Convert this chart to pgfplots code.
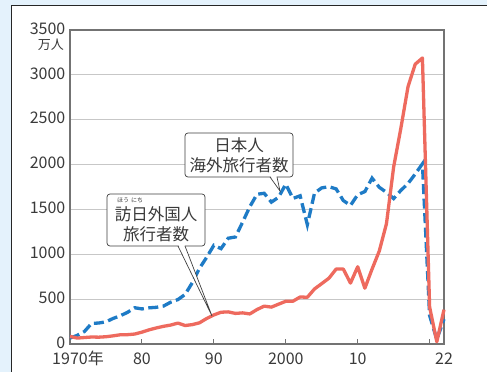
\documentclass[border=0pt]{standalone}
\usepackage{pgfplots}
\pgfplotsset{compat=1.18}
\usepackage{fontspec}
\setmainfont{Noto Sans CJK JP}
\definecolor{bgblue}{HTML}{E4F2FC}
\definecolor{myred}{HTML}{EE6A5E}
\definecolor{myblue}{HTML}{1E7BC6}
\definecolor{txt}{HTML}{3A3A3A}
\pgfplotstableread{
year val
1970 66
1971 96
1972 139
1973 229
1974 234
1975 247
1976 285
1977 315
1978 353
1979 404
1980 391
1981 403
1982 409
1983 423
1984 466
1985 495
1986 552
1987 683
1988 843
1989 966
1990 1100
1991 1063
1992 1179
1993 1193
1994 1358
1995 1530
1996 1669
1997 1680
1998 1581
1999 1636
2000 1782
2001 1622
2002 1652
2003 1330
2004 1683
2005 1740
2006 1753
2007 1729
2008 1599
2009 1545
2010 1664
2011 1699
2012 1849
2013 1747
2014 1690
2015 1621
2016 1712
2017 1789
2018 1895
2019 2008
2020 317
2021 51
2022 277
}\outbound
\pgfplotstableread{
year val
1970 85
1971 66
1972 72
1973 78
1974 76
1975 81
1976 91
1977 103
1978 104
1979 111
1980 132
1981 158
1982 179
1983 197
1984 211
1985 233
1986 206
1987 216
1988 236
1989 284
1990 324
1991 354
1992 358
1993 341
1994 347
1995 335
1996 384
1997 422
1998 411
1999 444
2000 476
2001 477
2002 524
2003 521
2004 614
2005 673
2006 733
2007 835
2008 835
2009 679
2010 861
2011 622
2012 836
2013 1036
2014 1341
2015 1974
2016 2404
2017 2869
2018 3119
2019 3188
2020 412
2021 25
2022 383
}\inbound
\begin{document}
\begin{tikzpicture}
\path[use as bounding box] (0,0) rectangle (487bp,372bp);
\fill[bgblue] (0,0) rectangle (487bp,372bp);
\fill[white] (11bp,0) rectangle (487bp,366bp);
\draw[black!85, line width=1bp] (11bp,0) -- (11bp,366bp) -- (487bp,366bp);
\begin{axis}[
  at={(70bp,28bp)}, anchor=south west,
  scale only axis, width=374bp, height=314bp,
  xmin=1970, xmax=2022, ymin=0, ymax=3500,
  xtick={1970,1980,1990,2000,2010,2020,2022},
  xticklabels={1970\rlap{年},80,90,2000,10,,22},
  ytick={0,500,1000,1500,2000,2500,3000,3500},
  yticklabels={0,500,1000,1500,2000,2500,3000,3500},
  /pgf/number format/assume math mode=true,
  ymajorgrids, grid style={black!22, line width=0.8bp},
  axis line style={black!55, line width=1.2bp},
  xtick pos=bottom, ytick pos=left,
  ytick style={draw=none},
  xtick style={black!55, line width=1bp},
  major tick length=5bp,
  ticklabel style={font=\fontsize{16bp}{16bp}\selectfont, text=txt,
    text height=11.4bp, text depth=0bp, inner sep=0.5bp},
  xticklabel style={yshift=-8bp},
  yticklabel style={xshift=-4bp, yshift=1.5bp},
  clip=false,
]
\addplot[myblue, line width=3.3bp, dash pattern=on 10bp off 4.5bp] table[x=year,y=val] {\outbound};
\addplot[myred, line width=3.3bp, line join=round] table[x=year,y=val] {\inbound};
\end{axis}
\node[anchor=east, font=\fontsize{13bp}{13bp}\selectfont, text=txt, inner sep=0] at (64bp,327.5bp) {万人};
% callout 1
\draw[black!75, line width=0.7bp, fill=white, rounded corners=3bp] (185bp,195bp) rectangle (293bp,239bp);
\fill[white] (270.5bp,196bp) -- (276.5bp,196bp) -- (280bp,181bp) -- cycle;
\draw[black!75, line width=0.7bp] (270bp,195bp) -- (280bp,181bp) -- (277bp,195bp);
\node[font=\fontsize{16.5bp}{16.5bp}\selectfont, text=txt, inner sep=0] at (239bp,227bp) {日本人};
\node[font=\fontsize{16.5bp}{16.5bp}\selectfont, text=txt, inner sep=0] at (239bp,207bp) {海外旅行者数};
% callout 2
\draw[black!75, line width=0.7bp, fill=white, rounded corners=3bp] (107bp,126bp) rectangle (205bp,178bp);
\fill[white] (178.5bp,127bp) -- (184.5bp,127bp) -- (212bp,56bp) -- cycle;
\draw[black!75, line width=0.7bp] (178bp,126bp) -- (212bp,56bp) -- (185bp,126bp);
\node[font=\fontsize{16.5bp}{16.5bp}\selectfont, text=txt, inner sep=0] at (156bp,157.5bp) {訪日外国人};
\node[font=\fontsize{16.5bp}{16.5bp}\selectfont, text=txt, inner sep=0] at (156bp,137.5bp) {旅行者数};
\node[font=\fontsize{6bp}{6bp}\selectfont, text=txt, inner sep=0] at (123bp,172bp) {ほう};
\node[font=\fontsize{6bp}{6bp}\selectfont, text=txt, inner sep=0] at (137bp,172bp) {にち};
\end{tikzpicture}
\end{document}
